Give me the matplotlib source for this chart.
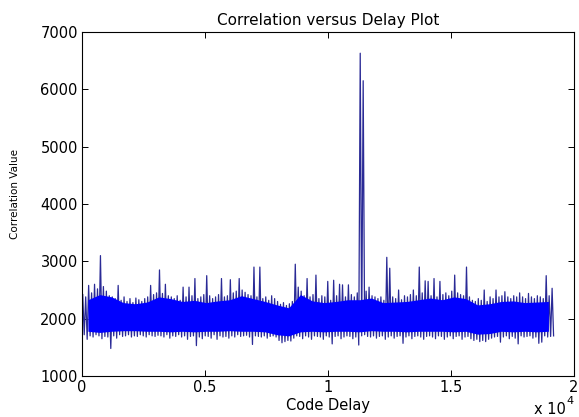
import numpy as np
import matplotlib.pyplot as plt

plt.rcParams['font.family'] = ['DejaVu Sans']

# correlation envelope per block of 120 code delays: block max and block min
BLOCK = 120
corr_hi = [
    2420, 2380, 2580, 2450, 2600, 2520, 3100, 2560, 2480, 2400,
    2380, 2350, 2580, 2320, 2380, 2300, 2350, 2280, 2360, 2330,
    2300, 2350, 2380, 2580, 2420, 2450, 2850, 2440, 2600, 2400,
    2380, 2350, 2400, 2320, 2550, 2380, 2550, 2400, 2700, 2350,
    2380, 2420, 2750, 2400, 2350, 2380, 2420, 2700, 2380, 2400,
    2680, 2450, 2480, 2700, 2500, 2460, 2420, 2400, 2900, 2380,
    2900, 2350, 2380, 2320, 2400, 2350, 2300, 2250, 2280, 2230,
    2260, 2300, 2950, 2550, 2480, 2400, 2700, 2380, 2420, 2760,
    2350, 2400, 2380, 2650, 2320, 2670, 2400, 2600, 2590, 2380,
    2590, 2420, 2380, 2450, 6630, 6150, 2480, 2550, 2400, 2380,
    2350, 2380, 2320, 3070, 2880, 2380, 2350, 2500, 2330, 2400,
    2380, 2420, 2500, 2400, 2900, 2450, 2660, 2650, 2400, 2700,
    2380, 2650, 2420, 2450, 2400, 2480, 2760, 2450, 2420, 2400,
    2900, 2380, 2320, 2300, 2350, 2320, 2500, 2300, 2380, 2350,
    2500, 2380, 2400, 2470, 2380, 2350, 2400, 2380, 2450, 2380,
    2350, 2440, 2380, 2350, 2400, 2380, 2350, 2750, 2400, 2530,
]
corr_lo = [
    1720, 1640, 1700, 1680, 1720, 1700, 1650, 1690, 1680, 1480,
    1700, 1660, 1720, 1690, 1700, 1720, 1680, 1700, 1690, 1720,
    1700, 1680, 1720, 1700, 1690, 1710, 1700, 1680, 1720, 1660,
    1700, 1690, 1720, 1680, 1700, 1640, 1690, 1700, 1530, 1680,
    1650, 1700, 1690, 1660, 1720, 1640, 1700, 1680, 1690, 1660,
    1700, 1680, 1720, 1690, 1700, 1710, 1680, 1550, 1700, 1690,
    1680, 1700, 1660, 1690, 1700, 1680, 1620, 1580, 1600, 1620,
    1610, 1660, 1700, 1690, 1650, 1700, 1680, 1640, 1700, 1690,
    1680, 1640, 1700, 1680, 1560, 1690, 1700, 1650, 1680, 1700,
    1690, 1650, 1680, 1540, 1700, 1720, 1690, 1680, 1700, 1660,
    1690, 1700, 1640, 1680, 1700, 1660, 1690, 1700, 1570, 1680,
    1700, 1650, 1690, 1700, 1680, 1640, 1690, 1700, 1680, 1650,
    1700, 1690, 1640, 1680, 1700, 1650, 1690, 1700, 1640, 1680,
    1690, 1650, 1620, 1640, 1600, 1620, 1600, 1640, 1660, 1680,
    1690, 1590, 1680, 1700, 1650, 1690, 1660, 1560, 1700, 1680,
    1690, 1700, 1660, 1680, 1570, 1590, 1700, 1680, 1690, 1700,
]

# dense core of the trace, every 480 code delays
CORE_STEP = 480
core_top = [
    2330, 2420, 2380, 2280, 2260, 2290, 2380, 2350, 2300, 2320,
    2280, 2310, 2330, 2400, 2350, 2300, 2240, 2190, 2420, 2310,
    2280, 2300, 2330, 2330, 2360, 2280, 2290, 2300, 2330, 2360,
    2330, 2380, 2350, 2240, 2260, 2300, 2310, 2280, 2290, 2300,
]
core_bot = [
    1780, 1760, 1780, 1790, 1790, 1780, 1780, 1770, 1780, 1770,
    1780, 1780, 1790, 1780, 1780, 1770, 1720, 1700, 1770, 1780,
    1770, 1780, 1780, 1770, 1790, 1780, 1780, 1770, 1780, 1780,
    1780, 1770, 1780, 1730, 1740, 1780, 1770, 1780, 1770, 1780,
]

x_ticks = [0, 5000, 10000, 15000, 20000]
x_ticklabels = ['0', '0.5', '1', '1.5', '2']
y_ticks = [1000, 2000, 3000, 4000, 5000, 6000, 7000]

starts = np.arange(len(corr_hi)) * BLOCK
delay = np.column_stack([starts + 30, starts + 90]).ravel()
corr = np.column_stack([corr_hi, corr_lo]).ravel()
core_x = np.arange(len(core_top)) * CORE_STEP + CORE_STEP // 2

fig = plt.figure(figsize=(5.79, 4.17), dpi=100)
ax = fig.add_axes([82 / 579, 41 / 417, 492 / 579, 344 / 417])
ax.plot(delay, corr, color='#2a2a96', lw=0.9, zorder=2)
ax.fill_between(core_x, core_bot, core_top, color='#0000ff', lw=0, zorder=3)

ax.set_xlim(0, 20000)
ax.set_ylim(1000, 7000)
ax.set_xticks(x_ticks)
ax.set_xticklabels(x_ticklabels)
ax.set_yticks(y_ticks)
ax.tick_params(direction='in', length=4, width=0.7, top=True, right=True,
               labelsize=10.5, pad=3)
for s in ax.spines.values():
    s.set_linewidth(0.8)

ax.set_title('Correlation versus Delay Plot', fontsize=11, pad=5)
ax.set_xlabel('Code Delay', fontsize=10.5, labelpad=2)
ax.set_ylabel('Correlation Value', fontsize=7.5)
ax.yaxis.set_label_coords(-0.125, 0.53)

# exponent for the delay axis
fig.text(566 / 579, 3 / 417, 'x 10', fontsize=10.5, ha='right', va='baseline')
fig.text(566 / 579, 13 / 417, '4', fontsize=8, ha='left', va='baseline')

fig.savefig('out.png', dpi=100)
